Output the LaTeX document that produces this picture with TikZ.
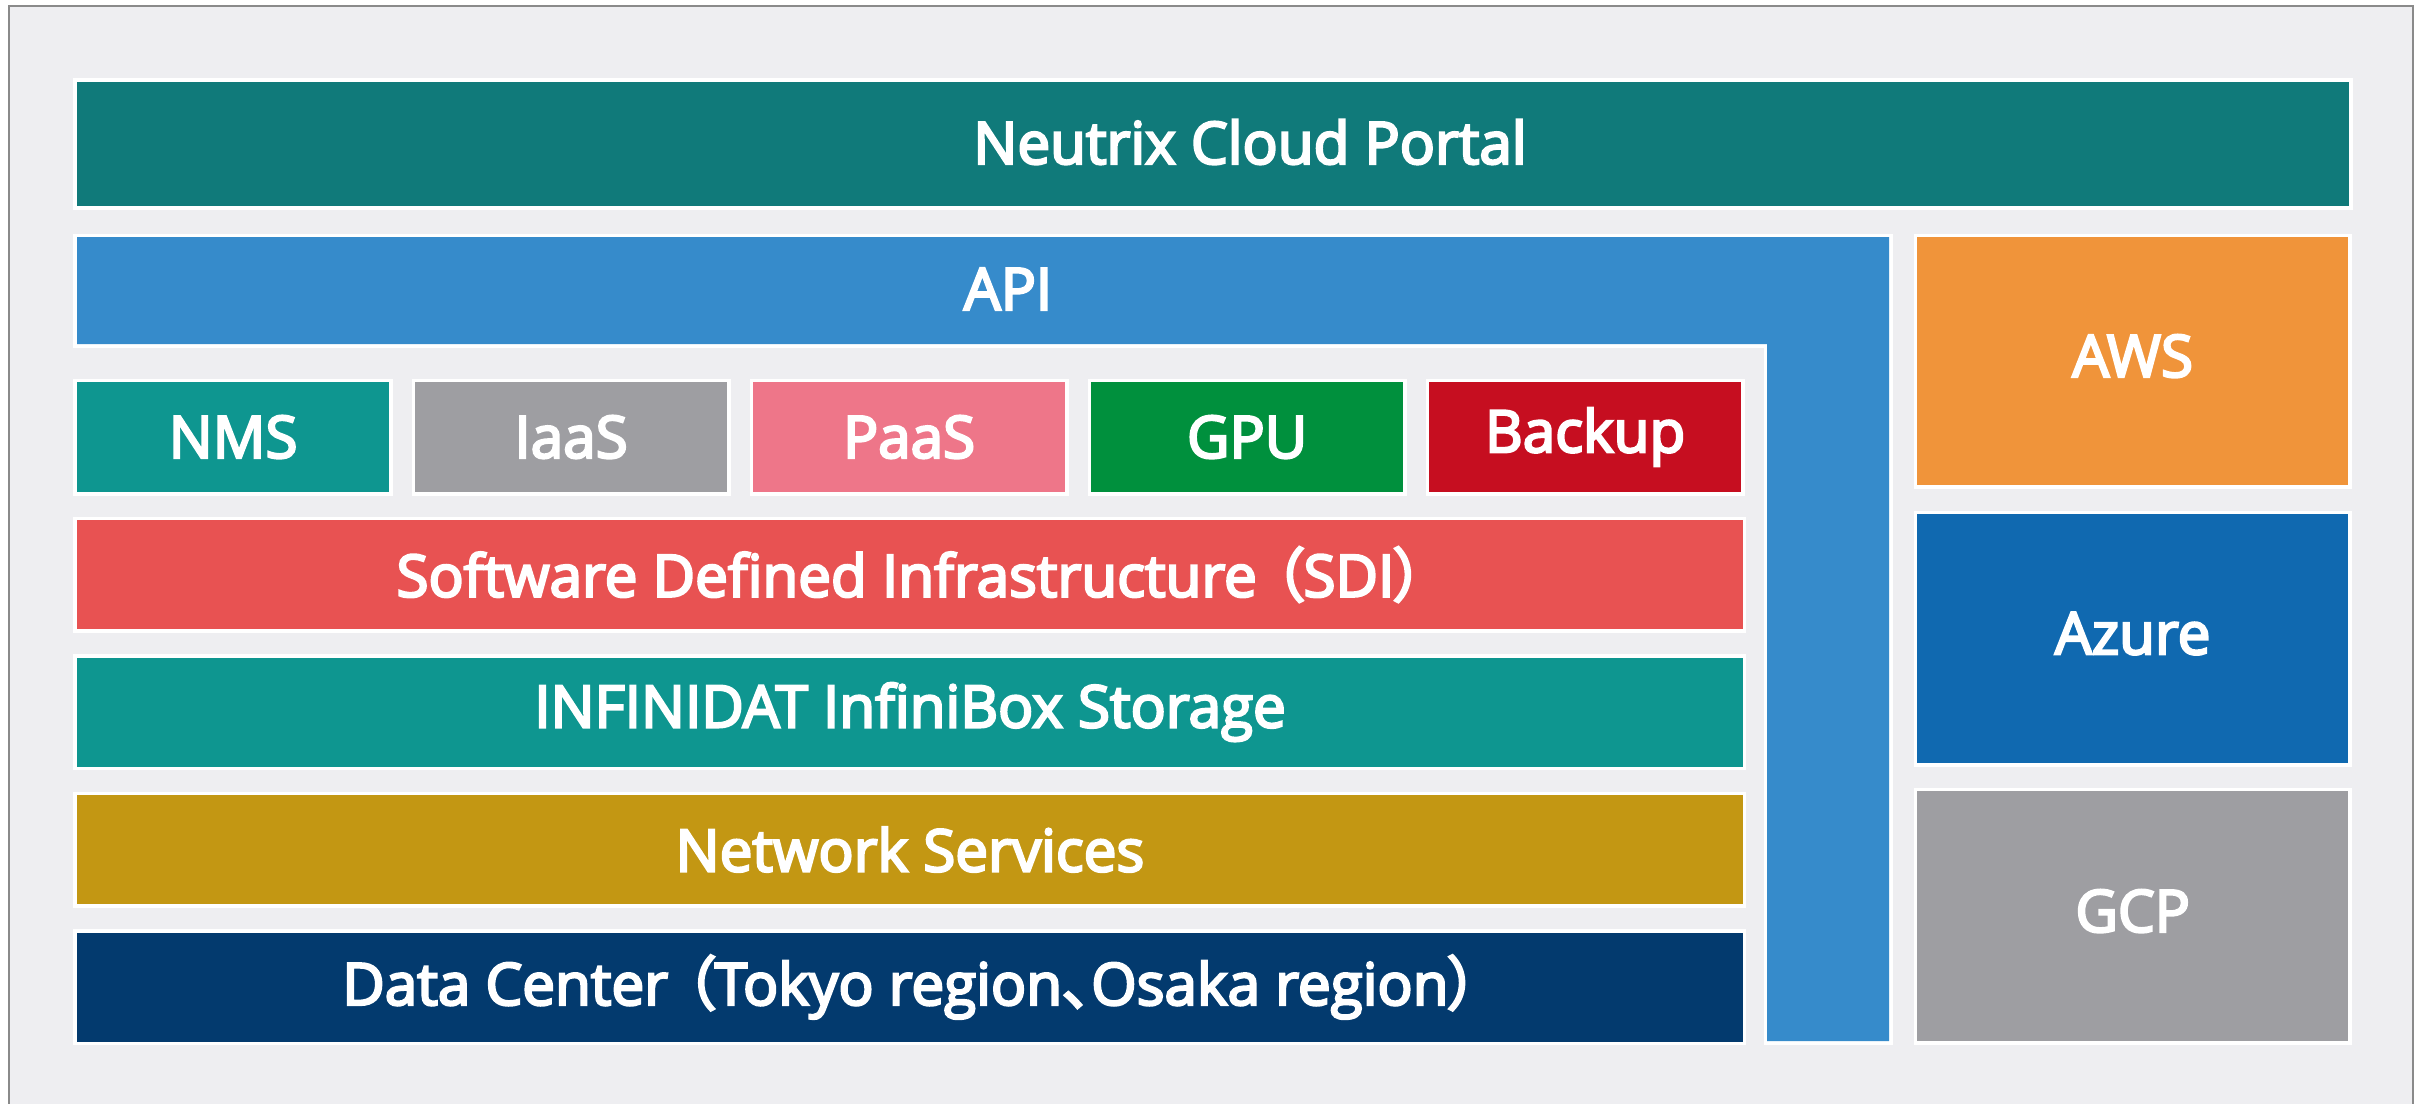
\documentclass[tikz,border=0pt]{standalone}
\usepackage{fontspec}
\newfontfamily\lbl{Open Sans}[UprightFeatures={FakeBold=4}]
\newfontfamily\cjk{Noto Sans CJK JP}[RawFeature=+palt,UprightFeatures={FakeBold=4}]
\newcommand\lpar{\hspace{0.3em}{\cjk （}}
\newcommand\rpar{{\cjk ）}}
\newcommand\jcomma{{\cjk 、}}
\definecolor{bgc}{HTML}{EEEEF1}
\definecolor{framec}{HTML}{8A8A8A}
\definecolor{portalc}{HTML}{107A7A}
\definecolor{apic}{HTML}{368BCB}
\definecolor{tealc}{HTML}{0E9690}
\definecolor{grayc}{HTML}{9E9EA2}
\definecolor{pinkc}{HTML}{EE7689}
\definecolor{greenc}{HTML}{00903D}
\definecolor{redc}{HTML}{C60E20}
\definecolor{sdic}{HTML}{E85252}
\definecolor{goldc}{HTML}{C39713}
\definecolor{navyc}{HTML}{033A6E}
\definecolor{awsc}{HTML}{F0943A}
\definecolor{azurec}{HTML}{1069B0}
\begin{document}
\begin{tikzpicture}[x=0.01cm,y=-0.01cm,
  halo/.style={preaction={draw=white,line width=0.07cm}},
  box/.style={halo,rectangle,inner sep=0pt,outer sep=0pt,draw=none,anchor=north west},
  txt/.style={text=white,font=\lbl\fontsize{16.6pt}{19pt}\selectfont,inner sep=0pt}]
\useasboundingbox (0,0) rectangle (2428,1103);
\fill[white] (0,0) rectangle (2428,1103);
\draw[framec,line width=0.02cm,fill=bgc] (9,6) rectangle (2413,1130);
% portal
\node[box,fill=portalc,minimum width=22.71cm,minimum height=1.24cm] (portal) at (77,82) {};
\node[txt] (portalt) at (1250,142) {Neutrix Cloud Portal};
% API L-shape
\path[halo,fill=apic] (77,237) -- (1889,237) -- (1889,1041) -- (1767,1041) -- (1767,344) -- (77,344) -- cycle;
\node[txt] (apit) at (1008,289) {API};
% small service boxes
\node[box,fill=tealc,minimum width=3.12cm,minimum height=1.10cm] (nms) at (77,382) {};
\node[box,fill=grayc,minimum width=3.12cm,minimum height=1.10cm] (iaas) at (415,382) {};
\node[box,fill=pinkc,minimum width=3.12cm,minimum height=1.10cm] (paas) at (753,382) {};
\node[box,fill=greenc,minimum width=3.12cm,minimum height=1.10cm] (gpu) at (1091,382) {};
\node[box,fill=redc,minimum width=3.12cm,minimum height=1.10cm] (backup) at (1429,382) {};
\node[txt] at (nms.center) {NMS};
\node[txt] at (iaas.center) {IaaS};
\node[txt] at (paas.center) {PaaS};
\node[txt] at (gpu.center) {GPU};
\node[txt] at (backup.center) {Backup};
% layers
\node[box,fill=sdic,minimum width=16.65cm,minimum height=1.09cm] (sdi) at (77,520) {};
\node[box,fill=tealc,minimum width=16.65cm,minimum height=1.09cm] (inf) at (77,657.5) {};
\node[box,fill=goldc,minimum width=16.65cm,minimum height=1.09cm] (net) at (77,795) {};
\node[box,fill=navyc,minimum width=16.65cm,minimum height=1.09cm] (dc) at (77,932.5) {};
\node[txt] at (sdi.center) {Software Defined Infrastructure\lpar SDI\rpar};
\node[txt] at (inf.center) {INFINIDAT InfiniBox Storage};
\node[txt] at (net.center) {Network Services};
\node[txt] at (dc.center) {Data Center\lpar Tokyo region\jcomma Osaka region\rpar};
% clouds
\node[box,fill=awsc,minimum width=4.31cm,minimum height=2.48cm] (aws) at (1917,237) {};
\node[box,fill=azurec,minimum width=4.31cm,minimum height=2.49cm] (azure) at (1917,514) {};
\node[box,fill=grayc,minimum width=4.31cm,minimum height=2.50cm] (gcp) at (1917,791) {};
\node[txt] at ([yshift=0.05cm]aws.center) {AWS};
\node[txt] at ([yshift=0.05cm]azure.center) {Azure};
\node[txt] at ([yshift=0.05cm]gcp.center) {GCP};
\end{tikzpicture}
\end{document}
